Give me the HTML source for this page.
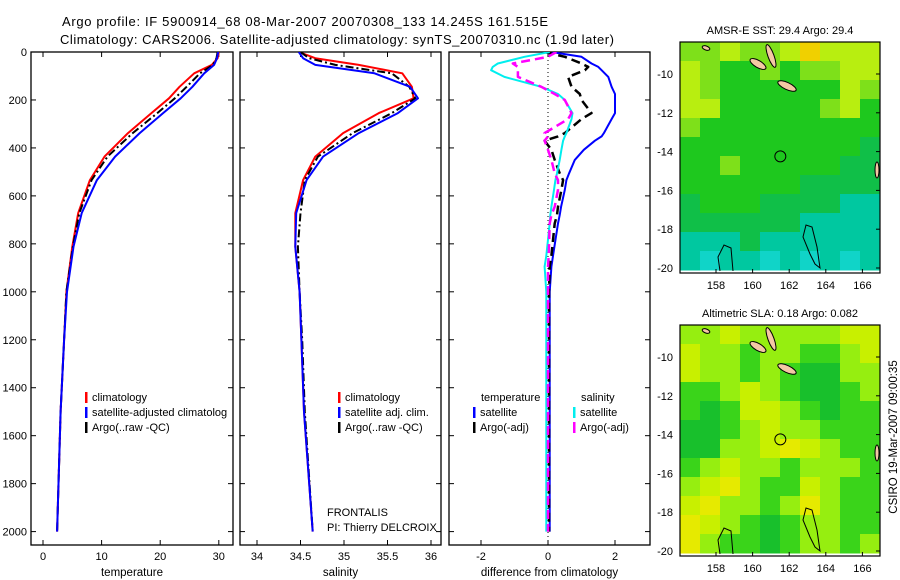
<!DOCTYPE html>
<html><head><meta charset="utf-8"><style>
body{margin:0;background:#fff;}
svg{display:block;font-family:"Liberation Sans",sans-serif;}
</style></head><body>
<svg id="chart" width="900" height="580" viewBox="0 0 900 580" xmlns="http://www.w3.org/2000/svg">
<rect width="900" height="580" fill="#fff"/>
<text x="62" y="26" font-size="13" textLength="486">Argo profile: IF 5900914_68 08-Mar-2007 20070308_133 14.245S 161.515E</text>
<text x="60" y="44" font-size="13" textLength="554">Climatology: CARS2006. Satellite-adjusted climatology: synTS_20070310.nc (1.9d later)</text>
<g id="g"></g>
</svg>
<script>
const depths=[0,26,54,89,145,193,255,338,436,534,672,812,1000,1200,1500,2000];
const tempClim=[30,29.8,28.8,25.8,23.3,21.5,18.5,14.5,10.5,8,6,5,4,3.6,3,2.4];
const tempSat=[29.9,29.7,29.2,27.5,25.5,23.5,20.5,16.5,12.3,9.2,6.6,5.2,4.1,3.6,3,2.4];
const tempArgo=[29.8,29.6,29,26.8,24.5,22.5,19.5,15.3,11,8.3,6.2,5.1,4,3.6,3,2.4];
const salClim=[34.48,34.67,35.17,35.67,35.78,35.8,35.4,34.99,34.67,34.53,34.44,34.44,34.49,34.51,34.54,34.64];
const salSat=[34.48,34.53,34.67,35.35,35.76,35.85,35.62,35.17,34.76,34.57,34.45,34.44,34.49,34.51,34.54,34.64];
const salArgo=[34.5,34.6,34.9,35.55,35.75,35.82,35.55,35.1,34.7,34.55,34.5,34.47,34.49,34.52,34.55,34.64];
const diffDepths=[0,20,48,62,76,104,145,175,200,255,280,338,352,370,408,450,506,534,575,645,680,715,850,895,1000,1500,2000];
const dTempSat=[0.1,1.0,1.3,1.5,1.6,1.8,1.9,2.0,2.0,2.0,1.9,1.67,1.6,1.4,1.07,0.8,0.63,0.55,0.5,0.39,0.35,0.3,0.15,0.1,0.05,0.05,0.05];
const dTempArgo=[-0.1,0.5,1.0,1.2,1.1,0.6,0.7,0.95,1.0,1.3,1.0,0.5,0.3,-0.1,0.1,0.2,0.35,0.45,0.4,0.3,0.27,0.2,0.1,0.05,0.03,0.03,0.03];
const dSalSat=[0.05,-0.7,-1.5,-1.65,-1.7,-1.3,-0.2,0.3,0.5,0.73,0.7,0.55,0.5,0.45,0.4,0.35,0.27,0.22,0.18,0.1,0.07,0.05,-0.05,-0.1,-0.05,-0.05,-0.05];
const dSalArgo=[0.25,0,-1.05,-0.9,-0.9,-0.9,-0.2,0.2,0.5,0.7,0.6,-0.1,0,-0.1,0,0.1,0.2,0.3,0.3,0.2,0.1,0.05,0.02,0,0,0,0];
const depthTicks=[0,200,400,600,800,1000,1200,1400,1600,1800,2000];
const tempTicks=[0,10,20,30];
const salTicks=[34,34.5,35,35.5,36];
const diffTicks=[-2,0,2];
const latTicks=[-10,-12,-14,-16,-18,-20];
const lonTicks=[158,160,162,164,166];
const floatLon=161.515, floatLat=-14.245;
const sstGrid=["LLYLLYOYYY","YLGGLGLLYY","YLGGGGGGYL","YYGGGGGLYG","LGGGGGGGGG","GGGGGGGGGM","GGLGGGGGMM","GGGGGGMMMM","MGGGMMMMTT","MMMMMMTTTT","TTTMTTTTTT","TCTTCTCTCT"];
const slaGrid=["LLYLLLLLYY","YLLGLLGGLY","YLLGLGDDLL","GGLYLGDDGL","GDGYYLGDGG","DDGLYLLGGG","DDLLYQYLGG","GLYLLGLLLG","LYQLGGYLGG","YQLLGLQLGG","QYLGDGLLGG","QLGGDGLLGL"];
const pal1={L:"#7ee01a",Y:"#b8ee10",O:"#f0d000",G:"#1ec81e",M:"#10bf48",T:"#00c8a0",C:"#10d4c8"};
const pal2={L:"#96ee10",Y:"#c8f000",Q:"#e6ea00",G:"#3ad41a",D:"#18c02c"};

const NS="http://www.w3.org/2000/svg";
const g=document.getElementById('g');
function mk(t,a,p){const e=document.createElementNS(NS,t);for(const k in a)e.setAttribute(k,a[k]);(p||g).appendChild(e);return e;}
const Y0=52,KY=0.2398;
function yD(d){return Y0+d*KY;}
const panels=[
 {x0:31,x1:233,ox:43,k:5.86,v0:0,ticks:tempTicks,label:"temperature",name:"temperature"},
 {x0:240,x1:441,ox:257,k:87,v0:34,ticks:salTicks,label:"salinity",name:"salinity"},
 {x0:449,x1:650,ox:548,k:33.5,v0:0,ticks:diffTicks,label:"difference from climatology",name:"difference"}
];
function xv(p,v){return p.ox+(v-p.v0)*p.k;}
panels.forEach((p,i)=>{
 const fr=mk('g',{});
 
 
 const clip=mk('clipPath',{id:'c'+i},fr);mk('rect',{x:p.x0,y:Y0,width:p.x1-p.x0,height:545-Y0},clip);
 mk('rect',{x:p.x0,y:Y0,width:p.x1-p.x0,height:545-Y0,fill:'none',stroke:'#000','stroke-width':1.3},fr);
 depthTicks.forEach(d=>{const y=yD(d);
  mk('line',{x1:p.x0,x2:p.x0+5,y1:y,y2:y,stroke:'#000'},fr);mk('line',{x1:p.x1-5,x2:p.x1,y1:y,y2:y,stroke:'#000'},fr);
  if(i==0){const t=mk('text',{x:27,y:y+4,'font-size':11,'text-anchor':'end'},fr);t.textContent=d;
   
   }
 });
 p.ticks.forEach(v=>{const x=xv(p,v);
  mk('line',{x1:x,x2:x,y1:545,y2:540,stroke:'#000'},fr);mk('line',{x1:x,x2:x,y1:Y0,y2:Y0+5,stroke:'#000'},fr);
  const t=mk('text',{x:x,y:560,'font-size':11,'text-anchor':'middle'},fr);t.textContent=v;
  
  
 });
 const t=mk('text',{x:(p.x0+p.x1)/2,y:576,'font-size':11.5,'text-anchor':'middle'},fr);t.textContent=p.label;
 
 
 p.g=mk('g',{'clip-path':'url(#c'+i+')'},fr);
});
function line(p,ds,vs,col,w,dash,name){
 const pts=ds.map((d,j)=>xv(p,vs[j]).toFixed(1)+','+yD(d).toFixed(1)).join(' ');
 const e=mk('polyline',{points:pts,fill:'none',stroke:col,'stroke-width':w,'stroke-dasharray':dash||'none','stroke-linejoin':'round'},p.g);
 
 
}
const P=panels;
line(P[0],depths,tempClim,'#f00',2,null,'temp-climatology-line');
line(P[0],depths,tempArgo,'#000',2,'8,3,2,3','temp-argo-line');
line(P[0],depths,tempSat,'#00f',2,null,'temp-satellite-line');
line(P[1],depths,salClim,'#f00',2,null,'sal-climatology-line');
line(P[1],depths,salArgo,'#000',2,'8,3,2,3','sal-argo-line');
line(P[1],depths,salSat,'#00f',2,null,'sal-satellite-line');
const zl=mk('line',{x1:xv(P[2],0),x2:xv(P[2],0),y1:Y0,y2:545,stroke:'#000','stroke-dasharray':'1,3'},P[2].g);


line(P[2],diffDepths,dTempSat,'#00f',2,null,'diff-temp-satellite-line');
line(P[2],diffDepths,dTempArgo,'#000',2.5,'9,5','diff-temp-argo-line');
line(P[2],diffDepths,dSalSat,'#0ee',2,null,'diff-sal-satellite-line');
line(P[2],diffDepths,dSalArgo,'#f0f',2.5,'9,5','diff-sal-argo-line');

function leg(x,y,col,txt,name){
 const gg=mk('g',{});
 
 
 if(col)mk('rect',{x:x,y:y-9,width:2.5,height:11,fill:col},gg);
 const t=mk('text',{x:x+(col?7:0),y:y,'font-size':11},gg);t.textContent=txt;
}
leg(85,401,'#f00','climatology','legend-entry-climatology');
leg(85,416,'#00f','satellite-adjusted climatolog','legend-entry-satellite-adjusted');
leg(85,431,'#000','Argo(..raw -QC)','legend-entry-argo');
leg(338,401,'#f00','climatology','legend-entry-sal-climatology');
leg(338,416,'#00f','satellite adj. clim.','legend-entry-sal-satellite');
leg(338,431,'#000','Argo(..raw -QC)','legend-entry-sal-argo');
leg(481,401,null,'temperature','legend-header-temperature');
leg(473,416,'#00f','satellite','legend-entry-temp-satellite');
leg(473,431,'#000','Argo(-adj)','legend-entry-temp-argo');
leg(581,401,null,'salinity','legend-header-salinity');
leg(573,416,'#0ee','satellite','legend-entry-sal-satellite-diff');
leg(573,431,'#f0f','Argo(-adj)','legend-entry-sal-argo-diff');
leg(327,516,null,'FRONTALIS','project-label');
leg(327,531,null,'PI: Thierry DELCROIX','pi-label');

// maps
const MX0=680,MX1=880;
function lonX(l){return 716+(l-158)*18.3;}
function drawMap(top,grid,pal,title,name){
 const mg=mk('g',{});
 
 
 const bottomData=top+228, bot=top+231;
 const latY=l=>top+32+(-10-l)*19.4;
 const rows=grid.length,cols=grid[0].length;
 const cw=(MX1-MX0)/cols,ch=(bottomData-top)/rows;
 grid.forEach((r,ri)=>{for(let ci=0;ci<cols;ci++){
  mk('rect',{x:MX0+ci*cw,y:top+ri*ch,width:cw+0.5,height:ch+0.5,fill:pal[r[ci]]},mg);
 }});
 const isl=[[758,top+22,9,3.5,30],[771,top+14,3,12,-20],[787,top+44,10,3.5,25],[706,top+6,4,2,20],[877,top+128,2,8,0]];
 isl.forEach(a=>{const e=mk('ellipse',{cx:a[0],cy:a[1],rx:a[2],ry:a[3],transform:`rotate(${a[4]} ${a[0]} ${a[1]})`,fill:'#f4c8a4',stroke:'#000','stroke-width':1},mg);
  
  });
 mk('path',{d:`M720 ${top+229} L718 ${top+215} L724 ${top+203} L731 ${top+206} L733 ${top+229}`,fill:'none',stroke:'#000'},mg);
 mk('path',{d:`M806 ${top+183} L803 ${top+195} L810 ${top+212} L815 ${top+222} L820 ${top+226} L817 ${top+205} L812 ${top+185} Z`,fill:'none',stroke:'#000'},mg);
 mk('rect',{x:MX0,y:top,width:MX1-MX0,height:bot-top,fill:'none',stroke:'#000','stroke-width':1.2},mg);
 const c=mk('circle',{cx:lonX(floatLon),cy:latY(floatLat),r:5.5,fill:'none',stroke:'#000','stroke-width':1},mg);
 
 
 latTicks.forEach(l=>{const y=latY(l);mk('line',{x1:MX1,x2:MX1-4,y1:y,y2:y,stroke:'#000'},mg);
  const t=mk('text',{x:673,y:y+4,'font-size':11,'text-anchor':'end'},mg);t.textContent=l;
  
  });
 lonTicks.forEach(l=>{const x=lonX(l);mk('line',{x1:x,x2:x,y1:bot,y2:bot-4,stroke:'#000'},mg);
  const t=mk('text',{x:x,y:bot+16,'font-size':11,'text-anchor':'middle'},mg);t.textContent=l;
  
  });
 const t=mk('text',{x:780,y:top-8,'font-size':11,'text-anchor':'middle'},mg);t.textContent=title;
 
 
}
drawMap(42,sstGrid,pal1,'AMSR-E SST: 29.4  Argo: 29.4','sst-map');
drawMap(325,slaGrid,pal2,'Altimetric SLA: 0.18  Argo: 0.082','sla-map');
const st=mk('text',{x:0,y:0,'font-size':11.5,'text-anchor':'middle',transform:'translate(897,437) rotate(-90)'});
st.textContent='CSIRO 19-Mar-2007 09:00:35';


</script>
</body></html>
